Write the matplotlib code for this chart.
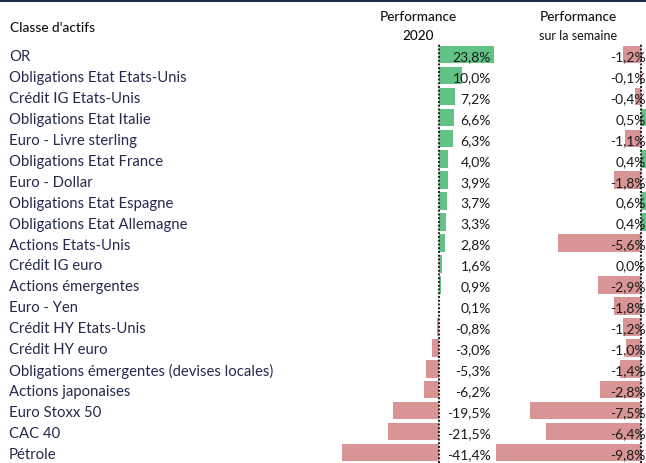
import matplotlib
matplotlib.use("Agg")
import matplotlib.pyplot as plt
from matplotlib.transforms import blended_transform_factory, ScaledTranslation

categories = ["OR", "Obligations Etat Etats-Unis", "Crédit IG Etats-Unis", "Obligations Etat Italie",
              "Euro - Livre sterling", "Obligations Etat France", "Euro - Dollar", "Obligations Etat Espagne",
              "Obligations Etat Allemagne", "Actions Etats-Unis", "Crédit IG euro", "Actions émergentes",
              "Euro - Yen", "Crédit HY Etats-Unis", "Crédit HY euro", "Obligations émergentes (devises locales)",
              "Actions japonaises", "Euro Stoxx 50", "CAC 40", "Pétrole"]
perf_2020 = [23.8, 10.0, 7.2, 6.6, 6.3, 4.0, 3.9, 3.7, 3.3, 2.8, 1.6, 0.9, 0.1, -0.8, -3.0, -5.3, -6.2,
             -19.5, -21.5, -41.4]
perf_week = [-1.2, -0.1, -0.4, 0.5, -1.1, 0.4, -1.8, 0.6, 0.4, -5.6, 0.0, -2.9, -1.8, -1.2, -1.0, -1.4,
             -2.8, -7.5, -6.4, -9.8]

W, H = 646, 464
GREEN = "#62c386"
RED = "#d99595"
NAVY = "#232a4d"
FONT = "Lato"

fig = plt.figure(figsize=(W / 100, H / 100), dpi=100)

def px_axes(x0, x1, y0, y1):
    return fig.add_axes([x0 / W, 1 - y1 / H, (x1 - x0) / W, (y1 - y0) / H])

row0, rowstep = 55.5, 20.95
ytop, ybot = 45, 464
ylim = ((ybot - row0) / rowstep, (ytop - row0) / rowstep)

# 2020 axis
z1, s1 = 438.5, 2.33
a1x0, a1x1 = 330, 510
ax1 = px_axes(a1x0, a1x1, ytop, ybot)
ax1.set_xlim((a1x0 - z1) / s1, (a1x1 - z1) / s1)
ax1.set_ylim(*ylim)
# week axis
z2, s2 = 641.0, 14.8
a2x0, a2x1 = 490, 646
ax2 = px_axes(a2x0, a2x1, ytop, ybot)
ax2.set_xlim((a2x0 - z2) / s2, (a2x1 - z2) / s2)
ax2.set_ylim(*ylim)

ys = list(range(len(categories)))
for ax, vals in ((ax1, perf_2020), (ax2, perf_week)):
    cols = [GREEN if v >= 0 else RED for v in vals]
    ax.barh(ys, vals, height=0.84, color=cols, zorder=2)
    ax.axvline(0, color="#2a2a2a", lw=1.5, ls=(0, (1, 0.8)), zorder=3)
    ax.axis("off")

t1 = blended_transform_factory(fig.transFigure, ax1.transData) + ScaledTranslation(0, -1.5 / 100, fig.dpi_scale_trans)
for y, v in zip(ys, perf_2020):
    ax1.text(491 / W, y, f"{v:.1f}%".replace(".", ","), transform=t1, ha="right", va="center",
             fontsize=10, family=FONT, color="#1a1a1a", zorder=4)
for y, v in zip(ys, perf_week):
    ax2.text(645.5 / W, y, f"{v:.1f}%".replace(".", ","), transform=t1, ha="right", va="center",
             fontsize=10, family=FONT, color="#1a1a1a", zorder=4, clip_on=False)
for y, c in zip(ys, categories):
    ax1.text(9 / W, y, c, transform=t1, ha="left", va="center", fontsize=10.7, family=FONT, color=NAVY)

# headers
hw = "medium"
fig.text(10 / W, 1 - 28 / H, "Classe d'actifs", ha="left", va="center", fontsize=9.8,
         family=FONT, fontweight=hw, color="#111111")
fig.text(418 / W, 1 - 17 / H, "Performance", ha="center", va="center", fontsize=9.8,
         family=FONT, fontweight=hw, color="#111111")
fig.text(418 / W, 1 - 36 / H, "2020", ha="center", va="center", fontsize=9.8,
         family=FONT, fontweight=hw, color="#111111")
fig.text(578 / W, 1 - 17 / H, "Performance", ha="center", va="center", fontsize=9.8,
         family=FONT, fontweight=hw, color="#111111")
fig.text(578 / W, 1 - 36 / H, "sur la semaine", ha="center", va="center", fontsize=9,
         family=FONT, color="#111111")

# top band
fig.add_artist(plt.Rectangle((0, 1 - 3 / H), 1, 3 / H, transform=fig.transFigure,
                             color="#1f2a4a", lw=0))

fig.savefig("out.png", dpi=100)
